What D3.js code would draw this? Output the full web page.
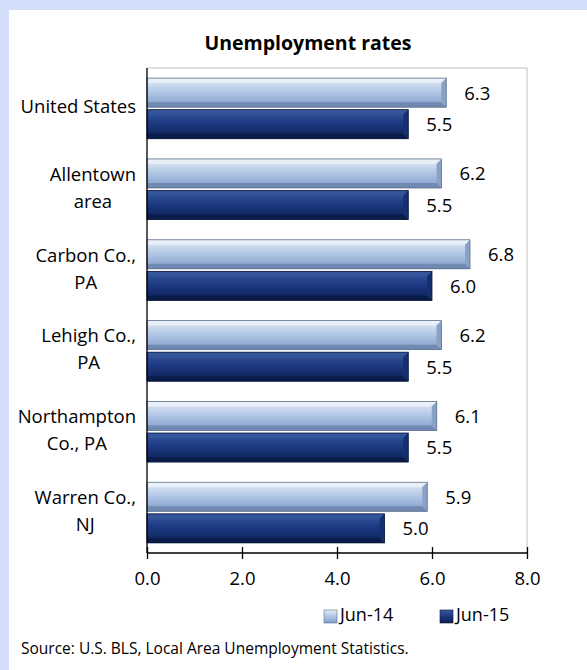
<!DOCTYPE html>
<html>
<head>
<meta charset="utf-8">
<script src="https://cdn.jsdelivr.net/npm/d3@7"></script>
<style>
  body { margin: 0; background: #d3dffa; }
  svg { display: block; font-family: "Open Sans", sans-serif; }
</style>
</head>
<body>
<svg id="chart" width="587" height="670"></svg>
<script>
//data
const regions = ["United States", "Allentown area", "Carbon Co., PA", "Lehigh Co., PA", "Northampton Co., PA", "Warren Co., NJ"];
const regionLines = [["United States"], ["Allentown", "area"], ["Carbon Co.,", "PA"], ["Lehigh Co.,", "PA"], ["Northampton", "Co., PA"], ["Warren Co.,", "NJ"]];
const series = ["Jun-14", "Jun-15"];
const jun14 = [6.3, 6.2, 6.8, 6.2, 6.1, 5.9];
const jun15 = [5.5, 5.5, 6.0, 5.5, 5.5, 5.0];
const xTicks = [0, 2, 4, 6, 8];

const svg = d3.select("#chart");

//white panel
svg.append("rect").attr("x", 9).attr("y", 10).attr("width", 578).attr("height", 660).attr("fill", "#fff");

const plotLeft = 147, plotRight = 527, plotTop = 68, plotBottom = 553;

const x = d3.scaleLinear().domain([0, 8]).range([plotLeft, plotRight]);
const y = d3.scaleBand().domain(regions).range([plotTop, plotBottom]).paddingInner(0.25).paddingOuter(0.125);
const ySub = d3.scaleBand().domain(series).range([0, y.bandwidth()]).paddingInner(0.08);

//gradients
const defs = svg.append("defs");
const grads = {
  "Jun-14": [["0%", "#e4ecf7"], ["45%", "#b4c9e6"], ["100%", "#7f9cc8"]],
  "Jun-15": [["0%", "#3a5aa0"], ["45%", "#1d3a82"], ["100%", "#0c1f55"]]
};
series.forEach((s, i) => {
  const g = defs.append("linearGradient").attr("id", "g" + i).attr("x1", 0).attr("y1", 0).attr("x2", 0).attr("y2", 1);
  grads[s].forEach(st => g.append("stop").attr("offset", st[0]).attr("stop-color", st[1]));
});
const bevel = {
  "Jun-14": { top: "#eef3fa", bottom: "#6a83ab", end: "#8aa2c6", edge: "#5d6f8c" },
  "Jun-15": { top: "#35559a", bottom: "#0a1a45", end: "#15306e", edge: "#0a1638" }
};

//plot frame
svg.append("line").attr("x1", plotLeft).attr("x2", plotRight).attr("y1", plotTop).attr("y2", plotTop).attr("stroke", "#bfbfbf");
svg.append("line").attr("x1", plotRight).attr("x2", plotRight).attr("y1", plotTop).attr("y2", plotBottom).attr("stroke", "#bfbfbf");

//bars
const rows = [];
regions.forEach((r, i) => {
  rows.push({ region: r, series: "Jun-14", value: jun14[i], gi: 0 });
  rows.push({ region: r, series: "Jun-15", value: jun15[i], gi: 1 });
});

const bar = svg.append("g").selectAll("g").data(rows).join("g")
  .attr("transform", d => `translate(0,${y(d.region) + ySub(d.series)})`);

const h = ySub.bandwidth();
const b = 5;
bar.append("rect")
  .attr("x", plotLeft).attr("y", 0)
  .attr("width", d => x(d.value) - plotLeft).attr("height", h)
  .attr("fill", d => `url(#g${d.gi})`);
//top bevel
bar.append("path")
  .attr("d", d => { const w = x(d.value); return `M${plotLeft},0L${w},0L${w - b},${b}L${plotLeft},${b}Z`; })
  .attr("fill", d => bevel[d.series].top).attr("opacity", 0.7);
//bottom bevel
bar.append("path")
  .attr("d", d => { const w = x(d.value); return `M${plotLeft},${h}L${w},${h}L${w - b},${h - b}L${plotLeft},${h - b}Z`; })
  .attr("fill", d => bevel[d.series].bottom).attr("opacity", 0.8);
//end bevel
bar.append("path")
  .attr("d", d => { const w = x(d.value); return `M${w},0L${w},${h}L${w - b},${h - b}L${w - b},${b}Z`; })
  .attr("fill", d => bevel[d.series].end);
bar.append("rect")
  .attr("x", plotLeft).attr("y", 0)
  .attr("width", d => x(d.value) - plotLeft).attr("height", h)
  .attr("fill", "none").attr("stroke", d => bevel[d.series].edge).attr("stroke-width", 0.8);

//value labels
bar.append("text")
  .attr("x", d => x(d.value) + 18)
  .attr("y", h / 2 + 2)
  .attr("dominant-baseline", "middle")
  .attr("font-size", 18.5).attr("fill", "#000")
  .text(d => d.value.toFixed(1));

//axes
svg.append("line").attr("x1", plotLeft).attr("x2", plotLeft).attr("y1", plotTop).attr("y2", plotBottom).attr("stroke", "#000").attr("stroke-width", 1.3);
const xAxis = svg.append("g").attr("transform", `translate(0,${plotBottom})`)
  .call(d3.axisBottom(x).tickValues(xTicks).tickFormat(d3.format(".1f")).tickSize(6).tickPadding(13));
xAxis.select(".domain").attr("stroke", "#000").attr("stroke-width", 1.3).attr("d", `M${plotLeft},0H${plotRight}`);
xAxis.selectAll(".tick line").attr("y1", -6).attr("y2", 6).attr("stroke-width", 1.3);
xAxis.selectAll(".tick text").attr("font-size", 18.5).attr("font-family", "Open Sans, sans-serif").attr("fill", "#000");

//category labels
const labelRight = 136;
const lab = svg.append("g").selectAll("text").data(regions).join("text")
  .attr("font-size", 18.5).attr("fill", "#000").attr("text-anchor", "middle");
lab.each(function (r, i) {
  const t = d3.select(this);
  const lines = regionLines[i];
  const lh = 27;
  const cy = y(r) + y.bandwidth() / 2;
  lines.forEach((l, k) => {
    t.append("tspan").attr("y", cy + (k - (lines.length - 1) / 2) * lh).attr("dominant-baseline", "middle").text(l);
  });
  let maxW = 0;
  t.selectAll("tspan").each(function () { maxW = Math.max(maxW, this.getComputedTextLength()); });
  t.selectAll("tspan").attr("x", labelRight - maxW / 2);
});

//title
svg.append("text").attr("x", 308).attr("y", 45).attr("text-anchor", "middle").attr("dominant-baseline", "middle")
  .attr("font-size", 19.5).attr("font-weight", "bold").text("Unemployment rates");

//legend
const legX = [324, 440];
series.forEach((s, i) => {
  svg.append("rect").attr("x", legX[i]).attr("y", 610).attr("width", 13).attr("height", 13).attr("fill", `url(#g${i})`)
    .attr("stroke", bevel[s].edge).attr("stroke-width", 0.6);
  svg.append("text").attr("x", legX[i] + 16).attr("y", 616).attr("dominant-baseline", "middle")
    .attr("font-size", 18).text(s);
});

//source
svg.append("text").attr("x", 21).attr("y", 650).attr("dominant-baseline", "middle")
  .attr("font-size", 15.5).text("Source: U.S. BLS, Local Area Unemployment Statistics.");
</script>
</body>
</html>
